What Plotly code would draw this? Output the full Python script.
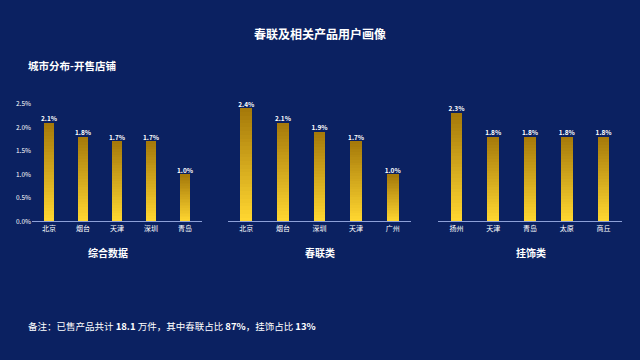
import plotly.graph_objects as go

# ---- data ----
title = "春联及相关产品用户画像"
subtitle = "城市分布-开售店铺"
panel_names = ["综合数据", "春联类", "挂饰类"]
cities_all = ["北京", "烟台", "天津", "深圳", "青岛"]
values_all = [2.1, 1.8, 1.7, 1.7, 1.0]
cities_cp = ["北京", "烟台", "深圳", "天津", "广州"]
values_cp = [2.4, 2.1, 1.9, 1.7, 1.0]
cities_gs = ["扬州", "天津", "青岛", "太原", "商丘"]
values_gs = [2.3, 1.8, 1.8, 1.8, 1.8]
y_ticks = [0.0, 0.5, 1.0, 1.5, 2.0, 2.5]

panels = [(cities_all, values_all), (cities_cp, values_cp), (cities_gs, values_gs)]

W, H = 640, 360
BG = "#0b2161"
FONT = "Noto Sans CJK SC"
TOP = (166, 122, 10)
BOT = (255, 214, 48)
N = 30

def mix(t):
    c = [round(BOT[i] + (TOP[i] - BOT[i]) * t) for i in range(3)]
    return f"rgb({c[0]},{c[1]},{c[2]})"

fig = go.Figure()

domains = [(32 / W, 202 / W), (228 / W, 411 / W), (438 / W, 622 / W)]
y_dom = (1 - 221.5 / H, 1 - 100.5 / H)

for p, (cats, vals) in enumerate(panels):
    xa = "x" if p == 0 else f"x{p+1}"
    ya = "y" if p == 0 else f"y{p+1}"
    for k in range(N):
        fig.add_trace(go.Bar(
            x=cats, y=[v / N for v in vals], xaxis=xa, yaxis=ya,
            marker=dict(color=mix(k / (N - 1)), line=dict(width=0)),
            showlegend=False, hoverinfo="skip"))
    fig.add_trace(go.Scatter(
        x=cats, y=vals, xaxis=xa, yaxis=ya, mode="text",
        text=[f"<b>{v:.1f}%</b>" for v in vals], textposition="top center",
        textfont=dict(color="white", size=6.5, family=FONT),
        cliponaxis=False, showlegend=False, hoverinfo="skip"))

layout = dict(
    width=W, height=H, paper_bgcolor=BG, plot_bgcolor=BG,
    margin=dict(l=0, r=0, t=0, b=0), barmode="stack", bargap=0.68,
    font=dict(family=FONT, color="white"),
    showlegend=False,
)
for p in range(3):
    xk = "xaxis" if p == 0 else f"xaxis{p+1}"
    yk = "yaxis" if p == 0 else f"yaxis{p+1}"
    layout[xk] = dict(domain=list(domains[p]), anchor="y" if p == 0 else f"y{p+1}",
                      showline=True, linecolor="#8da0d8", linewidth=1,
                      showgrid=False, zeroline=False, ticks="",
                      tickfont=dict(size=7, color="white", family=FONT),
                      fixedrange=True)
    layout[yk] = dict(domain=list(y_dom), anchor="x" if p == 0 else f"x{p+1}",
                      range=[0, 2.5], showgrid=False, zeroline=False,
                      showticklabels=(p == 0), tickvals=y_ticks,
                      ticktext=[f"{t:.1f}%" for t in y_ticks],
                      tickfont=dict(size=6.5, color="white", family=FONT),
                      ticks="", fixedrange=True)
fig.update_layout(**layout)

ann = [
    dict(text=f"<b>{title}</b>", x=0.5, y=1 - 28 / H, font=dict(size=12)),
    dict(text=f"<b>{subtitle}</b>", x=26 / W, y=1 - 61 / H, xanchor="left", font=dict(size=10.5)),
    dict(text="备注：已售产品共计 <b>18.1</b> 万件，其中春联占比 <b>87%</b>，挂饰占比 <b>13%</b>",
         x=26 / W, y=1 - 329 / H, xanchor="left", font=dict(size=9.5)),
]
centers = [108, 320, 531]
for name, cx in zip(panel_names, centers):
    ann.append(dict(text=f"<b>{name}</b>", x=cx / W, y=1 - 254 / H, font=dict(size=10)))
for a in ann:
    a.update(xref="paper", yref="paper", showarrow=False, yanchor="middle")
    a.setdefault("xanchor", "center")
    a["font"] = dict(color="white", family=FONT, **a["font"])
    fig.add_annotation(**a)

fig.write_html("out.html", config={"displayModeBar": False},
               post_script="document.body.style.margin='0';document.body.style.background='%s';" % BG)
